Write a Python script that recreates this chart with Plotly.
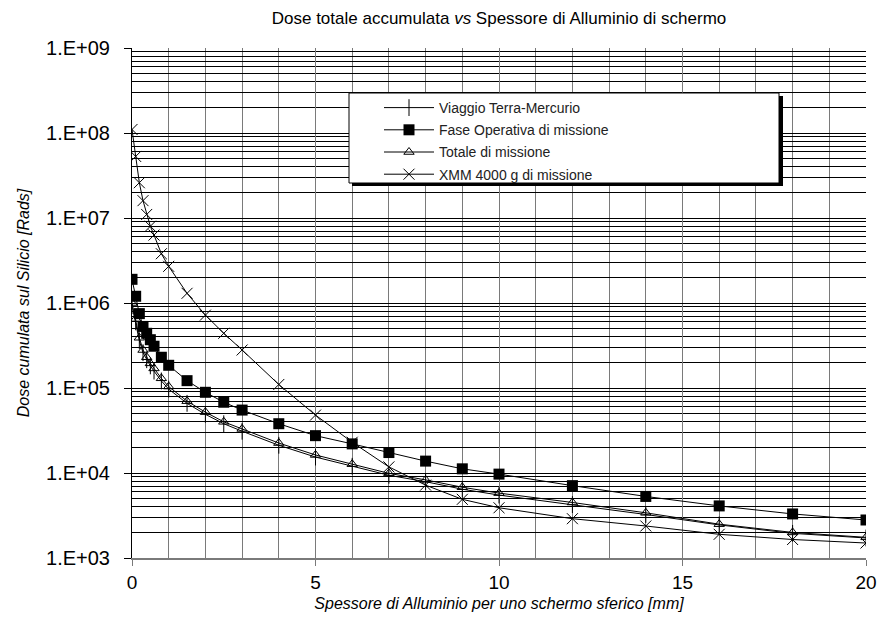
import plotly.graph_objects as go

# Shield thickness [mm]
spessore = [0, 0.1, 0.2, 0.3, 0.4, 0.5, 0.6, 0.8, 1.0, 1.5, 2, 2.5, 3, 4, 5,
            6, 7, 8, 9, 10, 12, 14, 16, 18, 20]

# Accumulated dose in silicon [rad]
viaggio = [9.3e5, 6.0e5, 3.6e5, 2.6e5, 2.15e5, 1.82e5, 1.58e5, 1.21e5, 9.7e4,
           6.6e4, 4.9e4, 3.8e4, 3.1e4, 2.12e4, 1.54e4, 1.2e4, 9.4e3, 7.9e3,
           6.45e3, 5.5e3, 4.25e3, 3.25e3, 2.45e3, 1.95e3, 1.72e3]
fase = [1.9e6, 1.2e6, 7.5e5, 5.3e5, 4.4e5, 3.7e5, 3.1e5, 2.3e5, 1.85e5,
        1.22e5, 8.9e4, 6.8e4, 5.5e4, 3.8e4, 2.75e4, 2.2e4, 1.74e4, 1.38e4,
        1.12e4, 9.7e3, 7.1e3, 5.3e3, 4.1e3, 3.3e3, 2.8e3]
totale = [1.0e6, 6.5e5, 3.9e5, 2.8e5, 2.3e5, 1.95e5, 1.7e5, 1.3e5, 1.04e5,
          7.0e4, 5.2e4, 4.0e4, 3.3e4, 2.25e4, 1.63e4, 1.27e4, 9.9e3, 8.3e3,
          6.8e3, 5.8e3, 4.5e3, 3.4e3, 2.5e3, 2.0e3, 1.75e3]
xmm = [1.1e8, 5.3e7, 2.6e7, 1.6e7, 1.1e7, 8.0e6, 6.3e6, 3.8e6, 2.7e6, 1.3e6,
       7.2e5, 4.4e5, 2.8e5, 1.1e5, 4.8e4, 2.3e4, 1.18e4, 7.2e3, 4.9e3,
       3.9e3, 2.9e3, 2.38e3, 1.9e3, 1.65e3, 1.5e3]

serie = ["Viaggio Terra-Mercurio", "Fase Operativa di missione",
         "Totale di missione", "XMM 4000 g di missione"]

y_tickvals = [1e3, 1e4, 1e5, 1e6, 1e7, 1e8, 1e9]
y_ticktext = ["1.E+03", "1.E+04", "1.E+05", "1.E+06", "1.E+07", "1.E+08", "1.E+09"]

FONT = "Liberation Sans, Arial, sans-serif"
NARROW = "Liberation Sans Narrow, Arial Narrow, Liberation Sans, sans-serif"

fig = go.Figure()

styles = [
    dict(symbol="line-ns-open", size=12, line=dict(width=1, color="black")),
    dict(symbol="square", size=11, color="black", line=dict(width=0)),
    dict(symbol="triangle-up-open", size=9, color="black", line=dict(width=1, color="black")),
    dict(symbol="x-thin-open", size=11, line=dict(width=1, color="black")),
]

for i, (name, vals, mk) in enumerate(zip(serie, [viaggio, fase, totale, xmm], styles)):
    fig.add_trace(go.Scatter(
        x=spessore, y=vals, name=name, mode="lines+markers",
        line=dict(color="black", width=1),
        marker=mk, legendgroup=f"g{i}",
    ))

L, R, T, B = 132, 12, 48, 63
W, H = 878, 621
pw, ph = W - L - R, H - T - B


def px(x):
    return (x - L) / pw


def py(y):
    return (H - B - y) / ph


# legend frame with drop shadow
fig.add_shape(type="rect", xref="paper", yref="paper",
              x0=px(352), x1=px(783), y0=py(96), y1=py(186),
              fillcolor="black", line=dict(width=0), layer="above")
fig.add_shape(type="rect", xref="paper", yref="paper",
              x0=px(349), x1=px(779), y0=py(93), y1=py(183),
              fillcolor="white", line=dict(color="black", width=1), layer="above")

fig.update_layout(
    width=W, height=H,
    margin=dict(l=L, r=R, t=T, b=B, autoexpand=False),
    paper_bgcolor="white", plot_bgcolor="white",
    font=dict(family=FONT, color="black"),
    title=dict(
        text="Dose totale accumulata <i>vs</i> Spessore di Alluminio di schermo",
        x=(L + pw / 2) / W, xanchor="center", y=1 - 18 / H, yanchor="middle",
        font=dict(size=17, family=NARROW, color="black"),
    ),
    showlegend=True,
    legend=dict(
        x=px(379), y=py(92), xanchor="left", yanchor="top",
        bgcolor="rgba(0,0,0,0)", borderwidth=0,
        font=dict(size=14, family=FONT, color="#222"),
        tracegroupgap=1, itemwidth=50,
    ),
)

fig.update_xaxes(
    range=[0, 20], tickmode="linear", tick0=0, dtick=5,
    showgrid=True, gridcolor="#7a7a7a", gridwidth=1,
    minor=dict(tickmode="linear", tick0=0, dtick=1, showgrid=True,
               gridcolor="#7a7a7a", gridwidth=1),
    showline=True, linecolor="#7a7a7a", linewidth=2,
    ticks="outside", ticklen=6, tickcolor="#7a7a7a",
    tickfont=dict(size=19, family=FONT, color="black"),
    title=dict(text="<i>Spessore di Alluminio per uno schermo sferico [mm]</i>",
               font=dict(size=16, family=FONT, color="black"), standoff=6),
    zeroline=False, automargin=False,
)

fig.update_yaxes(
    type="log", range=[3, 9], tickvals=y_tickvals, ticktext=y_ticktext,
    showgrid=True, gridcolor="black", gridwidth=1,
    minor=dict(dtick="D1", showgrid=True, gridcolor="black", gridwidth=1),
    showline=True, linecolor="black", linewidth=1,
    ticks="outside", ticklen=7, tickcolor="black",
    ticklabelstandoff=10,
    tickfont=dict(size=20, family=FONT, color="black"),
    title=dict(text="<i>Dose cumulata sul Silicio [Rads]</i>",
               font=dict(size=16, family=FONT, color="black"), standoff=12),
    zeroline=False, automargin=False,
)

fig.write_html("out.html")
